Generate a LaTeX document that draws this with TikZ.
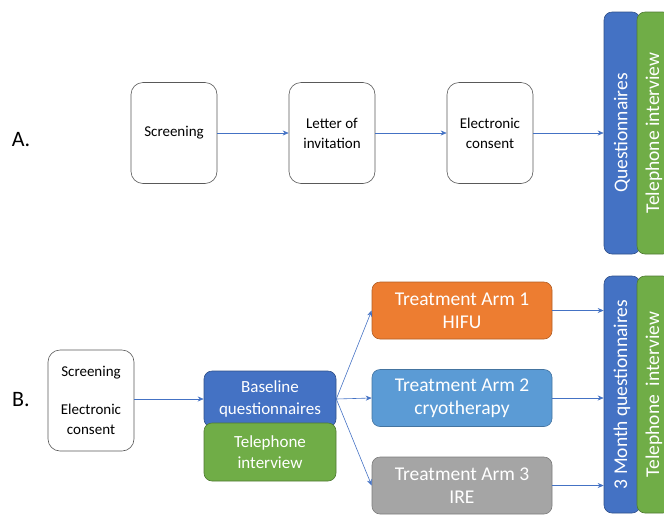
\documentclass[tikz,border=0pt]{standalone}
\usepackage{fontspec}
\setmainfont{Carlito}
\usetikzlibrary{arrows.meta,positioning,calc}

\definecolor{qblue}{HTML}{4472C4}
\definecolor{qgreen}{HTML}{70AD47}
\definecolor{qorange}{HTML}{ED7D31}
\definecolor{qsky}{HTML}{5B9BD5}
\definecolor{qgrey}{HTML}{A5A5A5}

\begin{document}
\begin{tikzpicture}[x=1pt,y=-1pt,node distance=158pt,on grid,
  wbox/.style={draw=black!65,line width=0.6pt,rounded corners=12pt,fill=white,
    minimum width=86pt,minimum height=101pt,align=center,
    font=\fontsize{15}{20}\selectfont},
  cbox/.style={line width=0.6pt,rounded corners=8pt,text=white,align=center,
    minimum width=132pt,font=\fontsize{17}{21.5}\selectfont},
  arm/.style={cbox,minimum width=180pt,minimum height=57pt,
    font=\fontsize{19.5}{23}\selectfont},
  vbox/.style={line width=0.6pt,rounded corners=8pt,text=white,rotate=90,
    font=\fontsize{19.5}{22}\selectfont},
  arr/.style={draw=qblue,line width=0.6pt,-{Stealth[length=6pt,width=5pt]}}]
  \useasboundingbox (0,0) rectangle (664,515);
  \clip (0,0) rectangle (664,515);

  % A.
  \node (A) at (21,140) {\fontsize{22}{26}\selectfont A.};
  \node[wbox] (1) at (174,133) {Screening};
  \node[wbox] (2) [right=of 1] {Letter of\\invitation};
  \node[wbox] (3) [right=of 2] {Electronic\\consent};
  \node[vbox,fill=qblue,draw=qblue!70!black,minimum width=242pt,minimum height=36pt]
    (q) at (622,133) {Questionnaires};
  \node[vbox,fill=qgreen,draw=qgreen!70!black,minimum width=242pt,minimum height=34pt]
    (qt) at (654,133) {Telephone interview};
  \draw[arr] (1) -- (2);
  \draw[arr] (2) -- (3);
  \draw[arr] (3.east) -- (3.east -| q.north);

  % B.
  \node (B) at (21,400) {\fontsize{22}{26}\selectfont B.};
  \node[wbox] (s) at (91,400.5) {Screening\\[18pt]Electronic\\consent};
  \node[cbox,fill=qblue,draw=qblue!70!black,minimum height=56pt]
    (bq) at (270,399) {Baseline\\questionnaires};
  \node[cbox,fill=qgreen,draw=qgreen!70!black,minimum height=58pt]
    (bt) at (270,452) {Telephone\\interview};
  \node[arm,fill=qorange,draw=qorange!75!black] (a1) at (462,310.5) {Treatment Arm 1\\HIFU};
  \node[arm,fill=qsky,draw=qsky!75!black] (a2) at (462,398) {Treatment Arm 2\\cryotherapy};
  \node[arm,fill=qgrey,draw=qgrey!75!black] (a3) at (462,485.5) {Treatment Arm 3\\IRE};
  \node[vbox,fill=qblue,draw=qblue!70!black,minimum width=237pt,minimum height=36pt]
    (m) at (622,394.5) {3 Month questionnaires};
  \node[vbox,fill=qgreen,draw=qgreen!70!black,minimum width=237pt,minimum height=34pt]
    (mt) at (654,394.5) {Telephone\ \ interview};
  \draw[arr] (s.east |- bq) -- (bq.west);
  \draw[arr] (bq.east) -- (a1.west);
  \draw[arr] (bq.east) -- (a2.west);
  \draw[arr] (bq.east) -- (a3.west);
  \draw[arr] (a1.east) -- (a1.east -| m.north);
  \draw[arr] (a2.east) -- (a2.east -| m.north);
  \draw[arr] (a3.east) -- (a3.east -| m.north);
\end{tikzpicture}
\end{document}
